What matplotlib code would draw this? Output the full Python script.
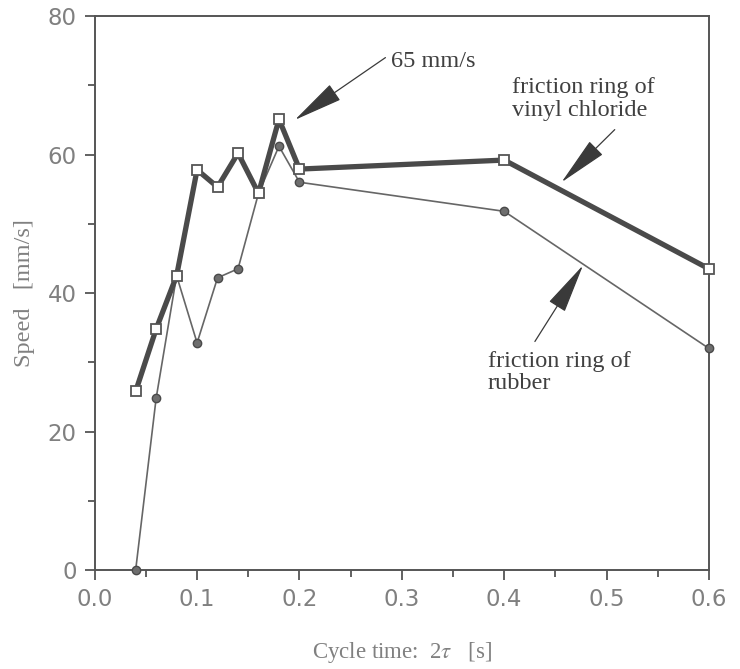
import matplotlib
matplotlib.use("Agg")
import matplotlib.pyplot as plt
from matplotlib.ticker import MultipleLocator

plt.rcParams["mathtext.fontset"] = "stix"

cycle_time = [0.04, 0.06, 0.08, 0.10, 0.12, 0.14, 0.16, 0.18, 0.20, 0.40, 0.60]
vinyl_speed = [25.8, 34.8, 42.5, 57.8, 55.3, 60.2, 54.4, 65.1, 57.9, 59.2, 43.5]
rubber_speed = [0.0, 24.8, 42.5, 32.8, 42.2, 43.5, 54.4, 61.2, 56.0, 51.8, 32.0]

x_ticks = [0.0, 0.1, 0.2, 0.3, 0.4, 0.5, 0.6]
y_ticks = [0, 20, 40, 60, 80]

fig = plt.figure(figsize=(7.4, 6.69), dpi=100)
ax = fig.add_axes([0.128, 0.148, 0.83, 0.828])

line_col = "#555555"
text_col = "#808080"
ann_col = "#404040"

ax.plot(cycle_time, rubber_speed, color="#666666", lw=1.2, marker="o", ms=6,
        mfc="#6e6e6e", mec="#4a4a4a", mew=1.0, zorder=3, clip_on=False)
ax.plot(cycle_time, vinyl_speed, color="#4a4a4a", lw=3.8, marker="s", ms=7.5,
        mfc="white", mec="#555555", mew=1.3, zorder=4, clip_on=False)

ax.set_xlim(0.0, 0.6)
ax.set_ylim(0, 80)
ax.set_xticks(x_ticks)
ax.set_yticks(y_ticks)
ax.set_xticklabels([f"{v:.1f}" for v in x_ticks])
ax.set_yticklabels([str(v) for v in y_ticks])
ax.xaxis.set_minor_locator(MultipleLocator(0.05))
ax.yaxis.set_minor_locator(MultipleLocator(10))

for s in ax.spines.values():
    s.set_color(line_col)
    s.set_linewidth(1.4)

ax.tick_params(which="both", direction="out", color=line_col, width=1.3,
               top=False, right=False)
ax.tick_params(which="major", length=7, labelsize=16.5, labelcolor=text_col, pad=6)
ax.tick_params(which="minor", length=5)
for lab in ax.get_xticklabels() + ax.get_yticklabels():
    lab.set_family("DejaVu Sans")

ax.set_xlabel("Cycle time:  2$\\tau$   [s]", family="Liberation Serif",
              fontsize=16.5, color=text_col)
ax.set_ylabel("Speed   [mm/s]", family="Liberation Serif",
              fontsize=17.5, color=text_col)
ax.xaxis.set_label_coords(0.5, -0.127)
ax.yaxis.set_label_coords(-0.098, 0.5)

arrow_kw = dict(arrowstyle="-|>,head_length=3.2,head_width=0.6",
                color="#3a3a3a", lw=0.9, shrinkA=0, shrinkB=0)

ax.text(0.2895, 73.4, "65 mm/s", fontsize=17.5, family="Liberation Serif",
        color=ann_col, ha="left", va="center")
ax.annotate("", xy=(0.1955, 65.0), xytext=(0.284, 74.0), arrowprops=arrow_kw)

ax.text(0.408, 68.0, "friction ring of\nvinyl chloride", fontsize=17.5,
        family="Liberation Serif", color=ann_col, ha="left", va="center",
        linespacing=1.1)
ax.annotate("", xy=(0.456, 56.0), xytext=(0.508, 63.6), arrowprops=arrow_kw)

ax.text(0.384, 28.5, "friction ring of\nrubber", fontsize=17.5,
        family="Liberation Serif", color=ann_col, ha="left", va="center",
        linespacing=1.1)
ax.annotate("", xy=(0.477, 44.0), xytext=(0.430, 33.0), arrowprops=arrow_kw)

fig.savefig("out.png", dpi=100)
